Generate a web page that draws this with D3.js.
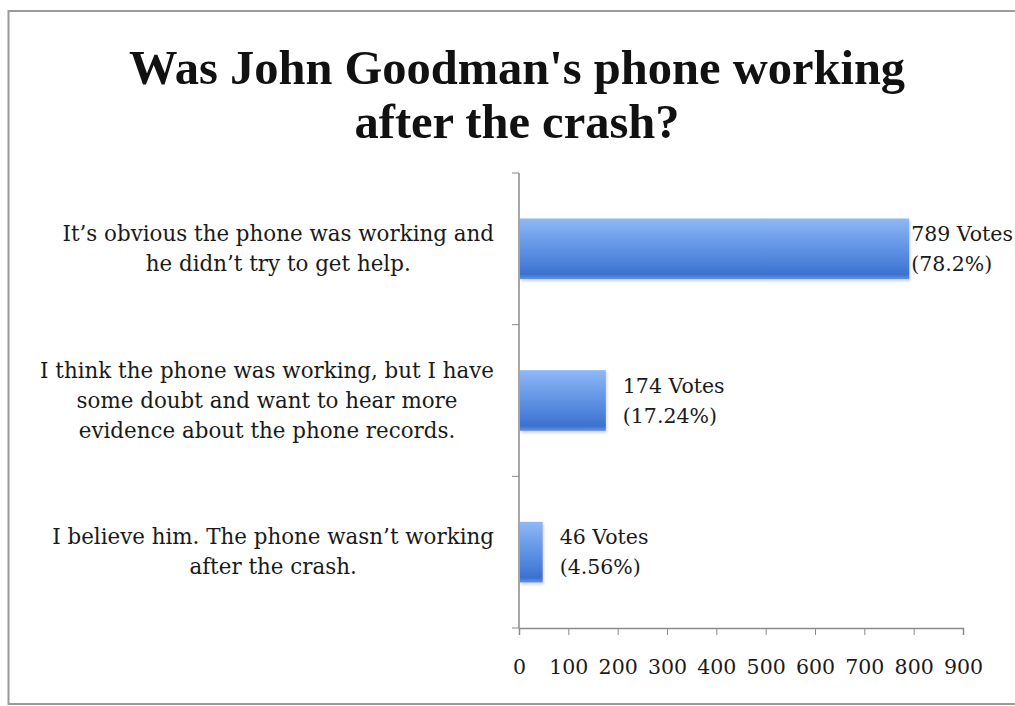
<!DOCTYPE html>
<html>
<head>
<meta charset="utf-8">
<script src="https://cdn.jsdelivr.net/npm/d3@7"></script>
<style>
  html, body { margin: 0; padding: 0; background: #fff; }
  svg { display: block; }
</style>
</head>
<body>
<svg id="chart" width="1015" height="706"></svg>
<script>
// Poll answers (top to bottom), vote counts and percentage labels
const answers = [
  ["It\u2019s obvious the phone was working and", "he didn\u2019t try to get help."],
  ["I think the phone was working, but I have", "some doubt and want to hear more", "evidence about the phone records."],
  ["I believe him. The phone wasn\u2019t working", "after the crash."]
];
const votes = [789, 174, 46];
const percents = ["78.2%", "17.24%", "4.56%"];
const xTicks = [0, 100, 200, 300, 400, 500, 600, 700, 800, 900];
const titleLines = ["Was John Goodman's phone working", "after the crash?"];

const W = 1015, H = 706;
const svg = d3.select("#chart");
const titleFont = "'Liberation Serif', 'DejaVu Serif', serif";
const bodyFont = "'DejaVu Serif', 'Liberation Serif', serif";
const bodySize = 20.5;
const catSize = 21.4;
const ink = "#1a1a1a";

// Outer frame
svg.append("rect")
  .attr("x", 8.5).attr("y", 11).attr("width", W + 10).attr("height", 693)
  .attr("fill", "#fff").attr("stroke", "#9a9a9a").attr("stroke-width", 2);

// Title
svg.append("g").selectAll("text").data(titleLines).join("text")
  .attr("x", 517).attr("y", (d, i) => 84 + i * 54)
  .attr("text-anchor", "middle")
  .attr("font-family", titleFont).attr("font-weight", "bold")
  .attr("font-size", 48.5).attr("fill", "#111")
  .text(d => d);

const plot = { left: 519, right: 963, top: 173, bottom: 628 };

const x = d3.scaleLinear().domain([0, 900]).range([plot.left, plot.right]);
const y = d3.scaleBand().domain(d3.range(answers.length))
  .range([plot.top, plot.bottom]).paddingInner(0.6).paddingOuter(0.3);

// Bar fill
const defs = svg.append("defs");
const grad = defs.append("linearGradient").attr("id", "barGrad")
  .attr("x1", 0).attr("y1", 0).attr("x2", 0).attr("y2", 1);
[["0%", "#90b8f5"], ["35%", "#6d9de9"], ["75%", "#4a81da"], ["92%", "#3a71cf"], ["100%", "#6894dd"]]
  .forEach(([o, c]) => grad.append("stop").attr("offset", o).attr("stop-color", c));
const shadow = defs.append("filter").attr("id", "barShadow")
  .attr("x", "-5%").attr("y", "-10%").attr("width", "115%").attr("height", "130%");
shadow.append("feDropShadow").attr("dx", 1).attr("dy", 2).attr("stdDeviation", 1.5)
  .attr("flood-color", "#000").attr("flood-opacity", 0.18);

// X axis
const xAxis = d3.axisBottom(x).tickValues(xTicks).tickSize(7).tickPadding(24)
  .tickFormat(d3.format("d"));
const gx = svg.append("g").attr("transform", `translate(0,${plot.bottom})`).call(xAxis);
gx.select(".domain").attr("stroke", "#8a8a8a").attr("stroke-width", 1.5);
gx.selectAll(".tick line").attr("stroke", "#8a8a8a");
gx.selectAll(".tick text").attr("font-family", bodyFont).attr("font-size", bodySize).attr("fill", ink);

// Y axis: vertical line with ticks at the band boundaries
const boundaries = d3.range(answers.length + 1).map(i => plot.top + i * (plot.bottom - plot.top) / answers.length);
const gy = svg.append("g");
gy.append("line").attr("x1", plot.left).attr("x2", plot.left)
  .attr("y1", plot.top).attr("y2", plot.bottom)
  .attr("stroke", "#8a8a8a").attr("stroke-width", 1.5);
gy.selectAll(".yt").data(boundaries).join("line").attr("class", "yt")
  .attr("x1", plot.left - 7).attr("x2", plot.left)
  .attr("y1", d => d).attr("y2", d => d)
  .attr("stroke", "#8a8a8a").attr("stroke-width", 1);

// Bars
svg.append("g").selectAll("rect").data(votes).join("rect")
  .attr("x", x(0) + 1).attr("y", (d, i) => y(i))
  .attr("width", d => x(d) - x(0))
  .attr("height", y.bandwidth())
  .attr("fill", "url(#barGrad)")
  .attr("filter", "url(#barShadow)");

// Category labels: centred lines in a block right-aligned at the axis
const catG = svg.append("g");
answers.forEach((lines, i) => {
  const cy = y(i) + y.bandwidth() / 2;
  const g = catG.append("g");
  const lh = 30;
  const t = g.selectAll("text").data(lines).join("text")
    .attr("y", (d, j) => cy + (j - (lines.length - 1) / 2) * lh + 7)
    .attr("text-anchor", "middle")
    .attr("font-family", bodyFont).attr("font-size", catSize).attr("fill", ink)
    .text(d => d);
  let maxW = 0;
  t.each(function () { maxW = Math.max(maxW, this.getComputedTextLength()); });
  t.attr("x", 494 - maxW / 2);
});

// Value labels
const valG = svg.append("g");
votes.forEach((v, i) => {
  const cy = y(i) + y.bandwidth() / 2;
  const lines = [`${v} Votes`, `(${percents[i]})`];
  const t = valG.selectAll(`.v${i}`).data(lines).join("text").attr("class", `v${i}`)
    .attr("y", (d, j) => cy + (j - 0.5) * 30 + 7)
    .attr("font-family", bodyFont).attr("font-size", bodySize).attr("fill", ink)
    .text(d => d);
  let maxW = 0;
  t.each(function () { maxW = Math.max(maxW, this.getComputedTextLength()); });
  const left = Math.min(x(v) + 18, 1013 - maxW);
  t.attr("x", left);
});
</script>
</body>
</html>
